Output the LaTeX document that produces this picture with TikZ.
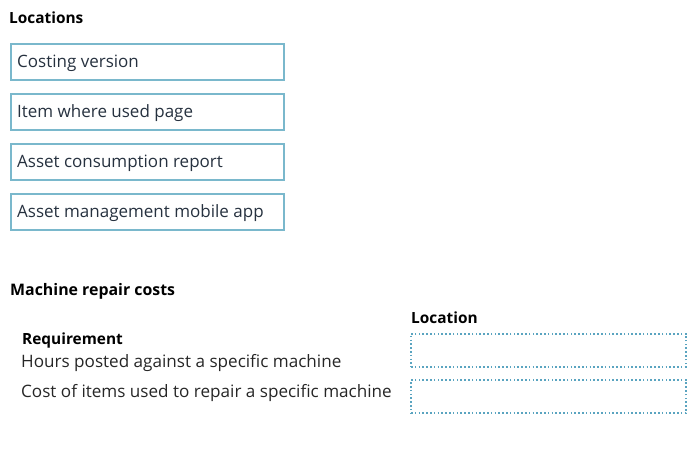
\documentclass[tikz,border=0pt]{standalone}
\usepackage{fontspec}
\setmainfont{Open Sans}
\usetikzlibrary{positioning}
\definecolor{boxblue}{HTML}{7AB8CC}
\definecolor{dotblue}{HTML}{5AA4C0}
\definecolor{inktext}{HTML}{26313F}
\tikzset{
  heading/.style={anchor=base west,inner sep=0pt,font=\fontsize{15.4}{18}\selectfont\bfseries,text=black},
  loctext/.style={anchor=base west,inner sep=0pt,font=\fontsize{17}{20}\selectfont,text=inktext},
  reqtext/.style={anchor=base west,inner sep=0pt,font=\fontsize{17.1}{20}\selectfont,text=black!85},
  locbox/.style={draw=boxblue,line width=2.6pt,minimum width=273pt,minimum height=36pt,anchor=north west,inner sep=0pt},
  dropbox/.style={draw=dotblue,line width=2pt,dash pattern=on 1.6pt off 2.2pt,minimum width=275pt,minimum height=33pt,anchor=north west,inner sep=0pt}
}
\begin{document}
\begin{tikzpicture}[x=1pt,y=-1pt]
\useasboundingbox (0,0) rectangle (700,455);
% location list
\node [heading] (locations) at (9,23) {Locations};
\node [locbox] (box1) at (9.5,42.5) {};
\node [locbox] (box2) at (9.5,92.5) {};
\node [locbox] (box3) at (9.5,142.5) {};
\node [locbox] (box4) at (9.5,192.5) {};
\node [loctext] (costing) at (17,67) {Costing version};
\node [loctext] (whereused) at (17,117) {Item where used page};
\node [loctext] (consumption) at (17,167) {Asset consumption report};
\node [loctext] (mobileapp) at (17,217) {Asset management mobile app};
% answer area
\node [heading,font=\fontsize{15.9}{18}\selectfont\bfseries] (repair) at (10,295) {Machine repair costs};
\node [heading] (location) at (411,323) {Location};
\node [heading] (requirement) at (22,344) {Requirement};
\node [reqtext] (hours) at (21,367) {Hours posted against a specific machine};
\node [reqtext] (items) at (21,397) {Cost of items used to repair a specific machine};
\node [dropbox] (drop1) at (410,332.5) {};
\node [dropbox] (drop2) at (410,379) {};
\end{tikzpicture}
\end{document}
